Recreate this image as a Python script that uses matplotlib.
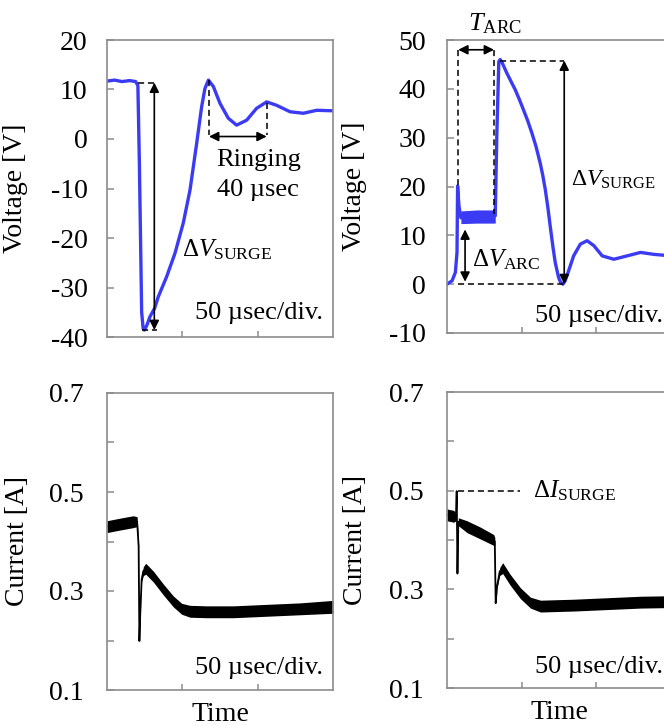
import numpy as np
import matplotlib
matplotlib.use("Agg")
import matplotlib.pyplot as plt

plt.rcParams['font.family'] = 'serif'
plt.rcParams['font.serif'] = ['Liberation Serif', 'DejaVu Serif']
plt.rcParams['mathtext.fontset'] = 'custom'
plt.rcParams['mathtext.rm'] = 'Liberation Serif'
plt.rcParams['mathtext.it'] = 'Liberation Serif:italic'
plt.rcParams['axes.unicode_minus'] = False

# time axis in usec, 50 usec per division
# voltage, no arc
t_v1 = [0, 5, 10, 15, 19, 20.5, 21.5, 23, 24, 24.8, 26.5, 28.5, 31.6, 34, 39.6, 45.1,
        50.6, 55.1, 59.5, 62.8, 65, 67.3, 70.6, 75, 80.5, 86, 92.7, 99.3, 106, 112.6,
        121.5, 130.3, 139.2, 150]
v1 = [11.7, 11.9, 11.6, 11.8, 11.6, 10.8, -5, -35, -38.3, -38.6, -37.6, -35.9, -34.2, -31.9,
      -27.8, -23.1, -17.0, -10.3, -0.9, 6.5, 10.2, 11.9, 10.6, 7.2, 4.2, 2.8, 3.8, 6.2, 7.5,
      6.8, 5.5, 5.2, 5.8, 5.7]

# voltage, with arc
t_v2 = [0, 3.4, 5.6, 6.7, 7.1, 8.0, 9.3, 15, 20, 25, 30, 32.3, 33.4, 34.7, 35.6, 37, 40.1,
        45.7, 48.5, 51.2, 54, 56.8, 59.6, 62.4, 64, 65.8, 67.5, 69.1, 71, 72.5, 74.7, 76,
        77.6, 79, 80.3, 84.8, 89.3, 93.8, 98.3, 103.9, 111.7, 120.7, 129.6, 138.6, 150]
v2 = [0, 0.7, 2.4, 6.5, 20.1, 16, 13.6, 13.5, 13.8, 13.6, 13.8, 14, 31, 45.6, 46, 45.3, 43.2,
      39.8, 37.8, 35.7, 33.5, 31, 28.2, 24.8, 22.5, 19.4, 15.8, 11.9, 7.5, 4.4, 1.4, 0.4,
      0, 0.6, 1.7, 5.8, 8.2, 8.9, 7.9, 5.8, 5.1, 5.8, 6.5, 6.1, 5.8]
arc_t = [9.3, 20, 32.3]
arc_lo = [12.4, 12.5, 12.5]
arc_hi = [15.0, 15.2, 15.2]

# current, no arc (centre of trace and noise half width)
t_i1 = [0, 8.4, 17.4, 20, 21.0, 21.5, 22.1, 23, 24.1, 25.7, 30.8, 37.4, 44, 49.6, 55.1,
        66.2, 83.9, 106, 128.2, 150]
i1 = [0.430, 0.435, 0.440, 0.440, 0.390, 0.199, 0.256, 0.323, 0.340, 0.345, 0.329, 0.303,
      0.279, 0.264, 0.259, 0.258, 0.258, 0.261, 0.264, 0.268]
hw1 = [0.012, 0.012, 0.012, 0.010, 0.002, 0.001, 0.002, 0.004, 0.009, 0.011, 0.011, 0.011,
       0.011, 0.011, 0.012, 0.012, 0.012, 0.012, 0.012, 0.013]

# current, with arc
t_i2 = [0, 4.5, 6.0, 6.5, 7.0, 7.6, 13.4, 22.4, 31.3, 32.0, 32.6, 33.5, 35.3, 37.3, 42.4,
        49.2, 55.9, 62.6, 85, 107.4, 129.8, 150]
i2 = [0.451, 0.448, 0.447, 0.499, 0.332, 0.437, 0.427, 0.414, 0.400, 0.397, 0.272, 0.305,
      0.336, 0.343, 0.319, 0.292, 0.273, 0.266, 0.268, 0.271, 0.274, 0.275]
hw2 = [0.012, 0.012, 0.008, 0.001, 0.001, 0.008, 0.012, 0.012, 0.011, 0.008, 0.001, 0.002,
       0.008, 0.011, 0.011, 0.011, 0.011, 0.012, 0.012, 0.012, 0.012, 0.012]

v_ticks = [-40, -30, -20, -10, 0, 10, 20]
v2_ticks = [-10, 0, 10, 20, 30, 40, 50]
i_ticks = [0.1, 0.2, 0.3, 0.4, 0.5, 0.6, 0.7]
i_labels = ['0.1', '', '0.3', '', '0.5', '', '0.7']

BLUE = '#3b3bf4'
GRAY = '#8c8c8c'
FS = 20
DIV = '50 \u00b5sec/div.'

fig = plt.figure(figsize=(6.64, 7.26), dpi=100)
ax1 = fig.add_axes([107/664, 1-337/726, 226/664, 297/726])
ax2 = fig.add_axes([447/664, 1-333/726, 224/664, 293/726])
ax3 = fig.add_axes([107/664, 1-690/726, 226/664, 297/726])
ax4 = fig.add_axes([447/664, 1-688/726, 224/664, 296/726])


def style(ax, pad):
    for s in ax.spines.values():
        s.set_color(GRAY)
        s.set_linewidth(1.2)
    ax.set_xlim(0, 150)
    ax.set_xticks([50, 100])
    ax.set_xticklabels([])
    ax.tick_params(axis='both', direction='in', color=GRAY, width=1.1)
    ax.tick_params(axis='x', length=4)
    ax.tick_params(axis='y', length=5, pad=pad, labelsize=FS)


def darrow(ax, p1, p2):
    ax.annotate('', xy=p2, xytext=p1,
                arrowprops=dict(arrowstyle='<|-|>', color='k', lw=1.2,
                                mutation_scale=14, shrinkA=0, shrinkB=0))


def dash(ax, xs, ys):
    ax.plot(xs, ys, color='k', lw=1.1, ls=(0, (4, 2.5)))


# upper left: voltage without arc
style(ax1, 14)
ax1.set_ylim(-40, 20)
ax1.set_yticks(v_ticks)
ax1.plot(t_v1, v1, color=BLUE, lw=2.4)
ax1.set_ylabel('Voltage [V]', fontsize=FS)
ax1.yaxis.set_label_coords(-0.35, 0.5)
dash(ax1, [20.8, 33], [11.4, 11.4])
dash(ax1, [23, 33], [-38.6, -38.6])
darrow(ax1, (31.4, 11.4), (31.4, -38.6))
dash(ax1, [67.7, 67.7], [11.9, 0.8])
dash(ax1, [106, 106], [7.3, 0.8])
darrow(ax1, (67.7, 0.5), (106, 0.5))
ax1.text(100.4, -4.2, 'Ringing', fontsize=19, ha='center', va='center')
ax1.text(100.4, -10.3, '40 \u00b5sec', fontsize=19, ha='center', va='center')
ax1.text(49.6, -22.4, r'$\Delta V_{\mathrm{SURGE}}$', fontsize=18, ha='left', va='center')
ax1.text(58.5, -35.2, DIV, fontsize=19, ha='left', va='center')

# upper right: voltage with arc
style(ax2, 15)
ax2.set_ylim(-10, 50)
ax2.set_yticks(v2_ticks)
ax2.fill_between(arc_t, arc_lo, arc_hi, color=BLUE, lw=0)
ax2.plot(t_v2, v2, color=BLUE, lw=2.4)
ax2.set_ylabel('Voltage [V]', fontsize=FS)
ax2.yaxis.set_label_coords(-0.357, 0.5)
darrow(ax2, (7.5, 48), (31.5, 48))
dash(ax2, [7.5, 7.5], [48, 20.1])
dash(ax2, [31.5, 31.5], [48, 14.4])
ax2.text(14.3, 53.3, r'$T_{\mathrm{ARC}}$', fontsize=19, ha='left', va='center')
dash(ax2, [35.6, 78.5], [45.8, 45.8])
darrow(ax2, (78.5, 45.8), (78.5, 0))
dash(ax2, [7.5, 78.5], [0, 0])
darrow(ax2, (12.1, 11.2), (12.1, 0.5))
ax2.text(16.6, 5.1, r'$\Delta V_{\mathrm{ARC}}$', fontsize=18, ha='left', va='center')
ax2.text(83.0, 21.4, r'$\Delta V_{\mathrm{SURGE}}$', fontsize=17, ha='left', va='center')
ax2.text(59, -6.5, DIV, fontsize=19, ha='left', va='center')

# lower left: current without arc
style(ax3, 17)
ax3.set_ylim(0.1, 0.7)
ax3.set_yticks(i_ticks)
ax3.set_yticklabels(i_labels)
lo1 = np.array(i1) - np.array(hw1)
hi1 = np.array(i1) + np.array(hw1)
ax3.fill_between(t_i1, lo1, hi1, color='k', lw=0)
ax3.plot(t_i1, i1, color='k', lw=1.3)
ax3.set_ylabel('Current [A]', fontsize=FS)
ax3.yaxis.set_label_coords(-0.34, 0.5)
ax3.set_xlabel('Time', fontsize=FS, labelpad=5)
ax3.text(58.5, 0.144, DIV, fontsize=19, ha='left', va='center')

# lower right: current with arc
style(ax4, 17)
ax4.set_ylim(0.1, 0.7)
ax4.set_yticks(i_ticks)
ax4.set_yticklabels(i_labels)
lo2 = np.array(i2) - np.array(hw2)
hi2 = np.array(i2) + np.array(hw2)
ax4.fill_between(t_i2, lo2, hi2, color='k', lw=0)
ax4.plot(t_i2, i2, color='k', lw=1.3)
ax4.set_ylabel('Current [A]', fontsize=FS)
ax4.yaxis.set_label_coords(-0.353, 0.5)
ax4.set_xlabel('Time', fontsize=FS, labelpad=5)
dash(ax4, [7.6, 49], [0.5, 0.5])
ax4.text(57.5, 0.5, r'$\Delta I_{\mathrm{SURGE}}$', fontsize=18, ha='left', va='center')
ax4.text(59, 0.142, DIV, fontsize=19, ha='left', va='center')

fig.savefig('out.png', dpi=100)
